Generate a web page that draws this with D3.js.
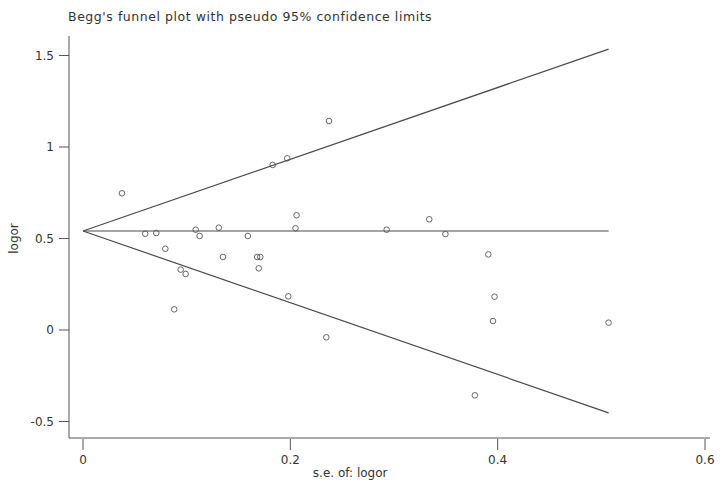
<!DOCTYPE html>
<html><head><meta charset="utf-8">
<script src="https://cdn.jsdelivr.net/npm/d3@7"></script>
<style>
body{margin:0;background:#fff;}
svg{display:block;font-family:"DejaVu Sans",sans-serif;}
</style></head>
<body>
<svg id="chart" width="725" height="485"></svg>
<script>
const titleText = "Begg's funnel plot with pseudo 95% confidence limits";
const xLabel = "s.e. of: logor";
const yLabel = "logor";
const xTicks = [0, 0.2, 0.4, 0.6];
const yTicks = [-0.5, 0, 0.5, 1, 1.5];
const pooled = 0.541;
const seValues = [0.0376,0.183,0.197,0.206,0.205,0.060,0.0707,0.1087,0.1125,0.131,0.159,0.0794,0.135,0.168,0.171,0.1695,0.0942,0.099,0.198,0.088,
  0.2373,0.2929,0.334,0.3496,0.391,0.397,0.3955,0.2347,0.507,0.378];
const logorValues = [0.747,0.902,0.938,0.627,0.556,0.526,0.530,0.548,0.514,0.559,0.514,0.444,0.399,0.399,0.399,0.337,0.330,0.306,0.184,0.113,
  1.142,0.548,0.605,0.524,0.413,0.182,0.049,-0.040,0.040,-0.357];

const svg = d3.select("#chart");
const x = d3.scaleLinear().domain([0, 0.6]).range([83, 705]);
const y = d3.scaleLinear().domain([-0.5, 1.5]).range([421.5, 55.5]);
const axisColor = "#555";
const textColor = "#333";

// title
svg.append("text").attr("x", 68).attr("y", 21).attr("font-size", 12.5)
  .attr("letter-spacing", 0.55).attr("fill", textColor).text(titleText);

// axes lines
svg.append("line").attr("x1", 69).attr("x2", 69).attr("y1", 36).attr("y2", 438)
  .attr("stroke", axisColor).attr("stroke-width", 1);
svg.append("line").attr("x1", 69).attr("x2", 710).attr("y1", 438).attr("y2", 438)
  .attr("stroke", axisColor).attr("stroke-width", 1);

// y ticks
const yg = svg.append("g");
yTicks.forEach(t => {
  yg.append("line").attr("x1", 59).attr("x2", 69).attr("y1", y(t)).attr("y2", y(t)).attr("stroke", axisColor);
  yg.append("text").attr("x", 54).attr("y", y(t)).attr("dy", "0.35em").attr("text-anchor", "end")
    .attr("font-size", 12).attr("fill", textColor).text(String(t));
});
// x ticks
const xg = svg.append("g");
xTicks.forEach(t => {
  xg.append("line").attr("x1", x(t)).attr("x2", x(t)).attr("y1", 439).attr("y2", 450).attr("stroke", axisColor);
  xg.append("text").attr("x", x(t)).attr("y", 464).attr("text-anchor", "middle")
    .attr("font-size", 12).attr("fill", textColor).text(String(t));
});

// axis labels
svg.append("text").attr("x", x(0.25) + 8).attr("y", 477).attr("text-anchor", "middle")
  .attr("font-size", 12).attr("fill", textColor).text(xLabel);
svg.append("text").attr("transform", `translate(18,${y(0.5)}) rotate(-90)`).attr("text-anchor", "middle")
  .attr("font-size", 12).attr("fill", textColor).text(yLabel);

// funnel lines
const seMax = d3.max(seValues);
const lineColor = "#4a4a4a";
const lines = [
  [[0, pooled], [seMax, pooled + 1.96 * seMax]],
  [[0, pooled], [seMax, pooled]],
  [[0, pooled], [seMax, pooled - 1.96 * seMax]]
];
const lineGen = d3.line().x(d => x(d[0])).y(d => y(d[1]));
svg.selectAll(".fl").data(lines).enter().append("path").attr("class", "fl")
  .attr("d", lineGen).attr("fill", "none").attr("stroke", lineColor).attr("stroke-width", 1.2);

// points
svg.selectAll(".pt").data(seValues.map((s, i) => [s, logorValues[i]])).enter().append("circle")
  .attr("class", "pt").attr("cx", d => x(d[0])).attr("cy", d => y(d[1])).attr("r", 2.8)
  .attr("fill", "none").attr("stroke", "#555").attr("stroke-width", 0.9);
</script>
</body></html>
